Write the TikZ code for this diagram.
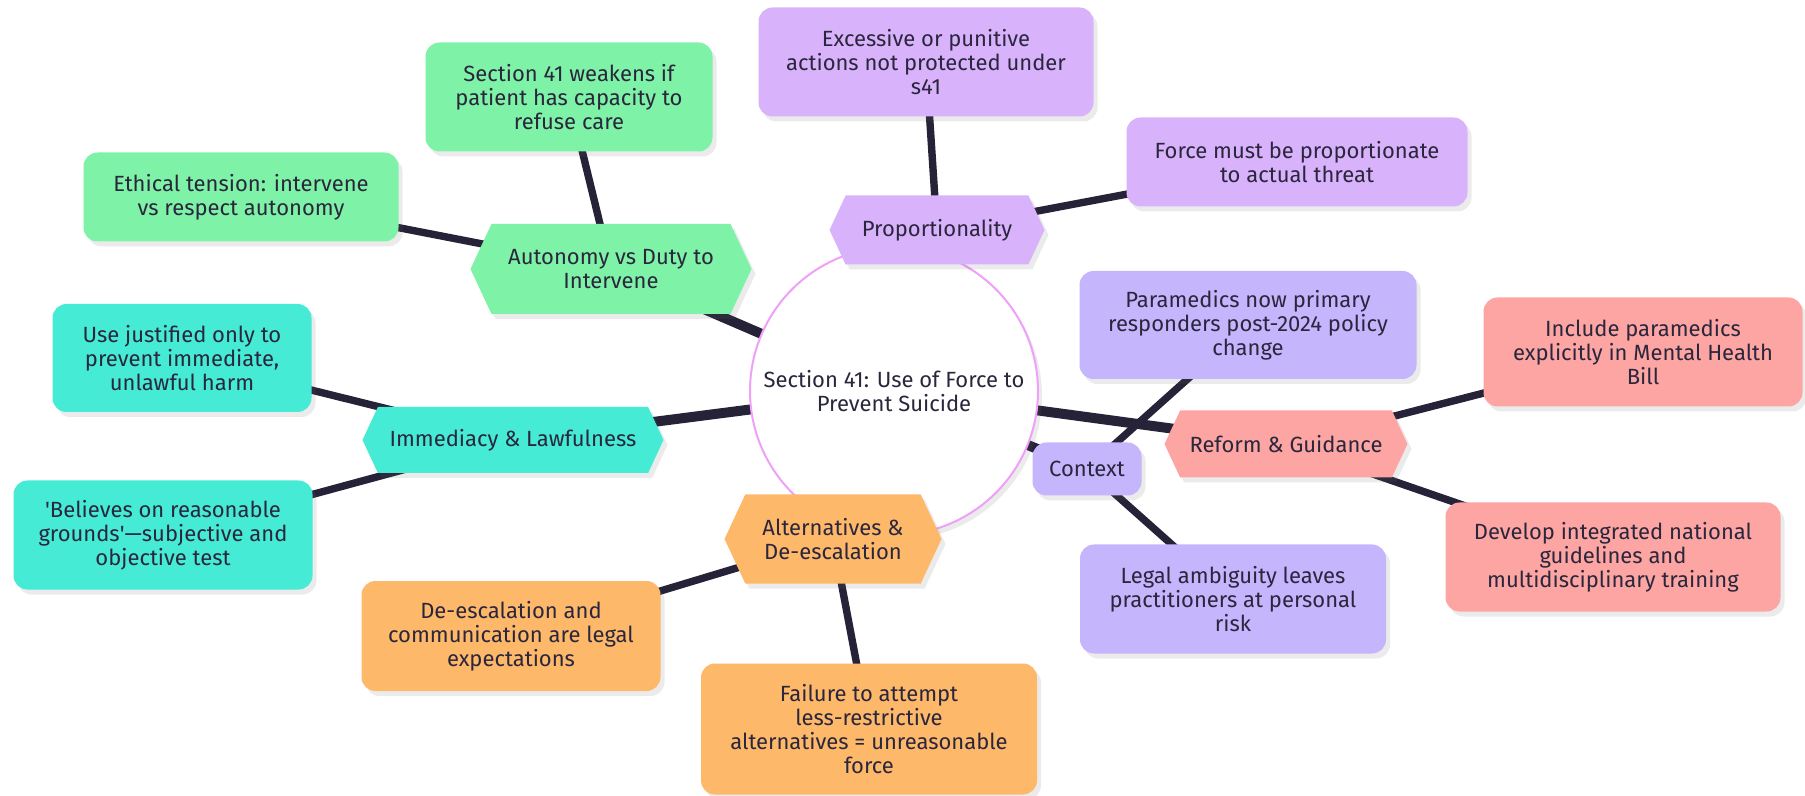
\documentclass[tikz,border=0pt]{standalone}
\usepackage{fontspec}
\setmainfont{Fira Sans}
\usetikzlibrary{shapes.symbols,shadows,backgrounds}

\definecolor{mintgreen}{RGB}{126,242,166}
\definecolor{lilac}{RGB}{217,178,252}
\definecolor{aqua}{RGB}{69,235,213}
\definecolor{apricot}{RGB}{253,184,106}
\definecolor{lavender}{RGB}{196,181,253}
\definecolor{salmon}{RGB}{252,165,163}
\definecolor{inkline}{RGB}{38,35,56}
\definecolor{inktext}{RGB}{42,38,60}
\definecolor{rimpink}{RGB}{239,160,248}

\begin{document}
\begin{tikzpicture}[x=0.5pt,y=0.5pt,yscale=-1,xscale=1,
  every node/.style={font=\fontsize{11}{12}\selectfont, text=inktext, align=center, inner sep=0pt},
  softshadow/.style={drop shadow={opacity=0.13, shadow xshift=2pt, shadow yshift=-2.5pt, fill=black!60}},
  leafbox/.style={rectangle, rounded corners=7pt, softshadow},
  hubhex/.style={signal, signal to=west and east, signal pointer angle=130, softshadow},
  spoke/.style={draw=inkline, line width=5pt},
  twig/.style={draw=inkline, line width=3.7pt}]
\path[use as bounding box] (0,0) rectangle (1805,796);

%Shape: Circle [id:root]
\node [circle, draw=rimpink, line width=1pt, fill=white, minimum size=144pt, softshadow] (root) at (894,391) {Section 41: Use of Force to\\Prevent Suicide};

%Shape: Hexagon [id:prop]
\node [hubhex, fill=lilac, minimum width=107.5pt, minimum height=34.5pt] (prop) at (937,230) {Proportionality};
% Text Node
\node [leafbox, fill=lilac, minimum width=167.5pt, minimum height=54.5pt] (excess) at (926,62) {Excessive or punitive\\actions not protected under\\s41};
% Text Node
\node [leafbox, fill=lilac, minimum width=170.5pt, minimum height=44.5pt] (force) at (1297,162) {Force must be proportionate\\to actual threat};

%Shape: Hexagon [id:auton]
\node [hubhex, fill=mintgreen, minimum width=140.5pt, minimum height=45pt] (auton) at (611,269) {Autonomy vs Duty to\\Intervene};
% Text Node
\node [leafbox, fill=mintgreen, minimum width=143.5pt, minimum height=54.5pt] (weaken) at (569,97) {Section 41 weakens if\\patient has capacity to\\refuse care};
% Text Node
\node [leafbox, fill=mintgreen, minimum width=157.5pt, minimum height=44.5pt] (ethic) at (241,197) {Ethical tension: intervene\\vs respect autonomy};

%Shape: Hexagon [id:immed]
\node [hubhex, fill=aqua, minimum width=150.5pt, minimum height=33pt] (immed) at (513,440) {Immediacy \& Lawfulness};
% Text Node
\node [leafbox, fill=aqua, minimum width=129.5pt, minimum height=54pt] (justif) at (182,358) {Use justified only to\\prevent immediate,\\unlawful harm};
% Text Node
\node [leafbox, fill=aqua, minimum width=149.5pt, minimum height=54.5pt] (believ) at (163,535) {\textquotesingle Believes on reasonable\\grounds\textquotesingle—subjective and\\objective test};

%Shape: Hexagon [id:altern]
\node [hubhex, fill=apricot, minimum width=108.5pt, minimum height=44.5pt] (altern) at (833,539) {Alternatives \&\\De-escalation};
% Text Node
\node [leafbox, fill=apricot, minimum width=149.5pt, minimum height=55pt] (deesc) at (511,636) {De-escalation and\\communication are legal\\expectations};
% Text Node
\node [leafbox, fill=apricot, minimum width=168pt, minimum height=65.5pt] (failure) at (869,729) {Failure to attempt\\less-restrictive\\alternatives = unreasonable\\force};

%Shape: Rounded Rect [id:context]
\node [leafbox, fill=lavender, minimum width=54.5pt, minimum height=26.5pt] (context) at (1087,469) {Context};
% Text Node
\node [leafbox, fill=lavender, minimum width=168.5pt, minimum height=54pt] (parame) at (1248,325) {Paramedics now primary\\responders post-2024 policy\\change};
% Text Node
\node [leafbox, fill=lavender, minimum width=153pt, minimum height=54.5pt] (legal) at (1233,599) {Legal ambiguity leaves\\practitioners at personal\\risk};

%Shape: Hexagon [id:reform]
\node [hubhex, fill=salmon, minimum width=121.5pt, minimum height=33.5pt] (reform) at (1286,444) {Reform \& Guidance};
% Text Node
\node [leafbox, fill=salmon, minimum width=159.5pt, minimum height=54.5pt] (include) at (1643,352) {Include paramedics\\explicitly in Mental Health\\Bill};
% Text Node
\node [leafbox, fill=salmon, minimum width=167.5pt, minimum height=54.5pt] (develop) at (1613,557) {Develop integrated national\\guidelines and\\multidisciplinary training};

%Straight Lines
\begin{pgfonlayer}{background}
\foreach \hub in {prop,auton,immed,altern,context,reform}
  \draw [spoke] (root.center) -- (\hub.center);
\draw [twig] (prop.center) -- (excess.center);
\draw [twig] (prop.center) -- (force.center);
\draw [twig] (auton.center) -- (weaken.center);
\draw [twig] (auton.center) -- (ethic.center);
\draw [twig] (immed.center) -- (justif.center);
\draw [twig] (immed.center) -- (believ.center);
\draw [twig] (altern.center) -- (deesc.center);
\draw [twig] (altern.center) -- (failure.center);
\draw [twig] (context.center) -- (parame.center);
\draw [twig] (context.center) -- (legal.center);
\draw [twig] (reform.center) -- (include.center);
\draw [twig] (reform.center) -- (develop.center);
\end{pgfonlayer}

\end{tikzpicture}
\end{document}
